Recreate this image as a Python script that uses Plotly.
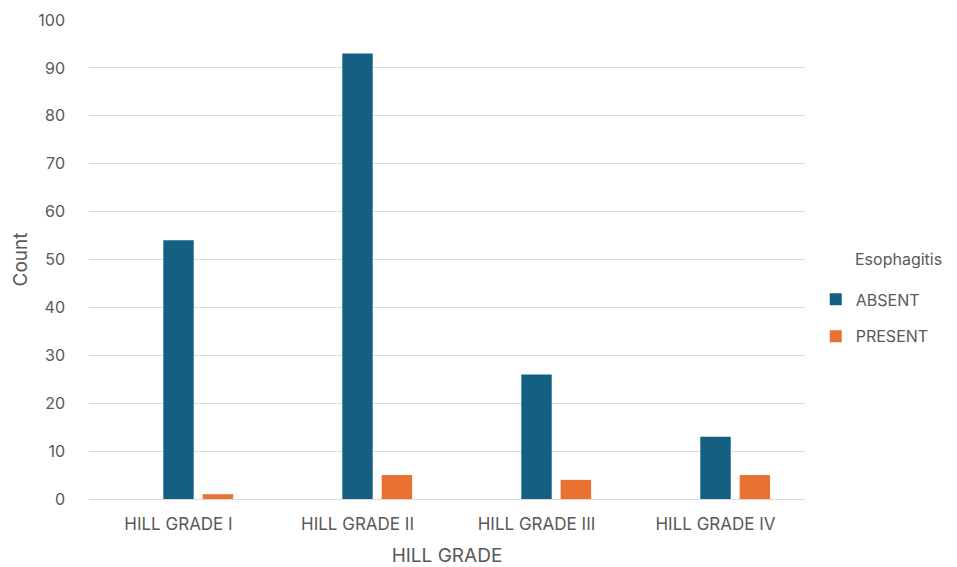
import plotly.graph_objects as go

# Counts of esophagitis status by Hill grade
categories = ["HILL GRADE I", "HILL GRADE II", "HILL GRADE III", "HILL GRADE IV"]
absent = [54, 93, 26, 13]
present = [1, 5, 4, 5]

TEXT = "#595959"
GRID = "#d9d9d9"
FONT = "Inter, 'Open Sans', Arial, sans-serif"

fig = go.Figure()
fig.add_trace(go.Bar(
    x=categories, y=absent, name="ABSENT", legendgroup="a",
    marker=dict(color="#156082", line=dict(width=0)),
    width=0.17, offset=-0.085,
))
fig.add_trace(go.Bar(
    x=categories, y=present, name="PRESENT", legendgroup="p",
    marker=dict(color="#E97132", line=dict(width=0)),
    width=0.17, offset=0.135,
))

fig.update_layout(
    width=957, height=567,
    margin=dict(l=89, r=152, t=20, b=68),
    paper_bgcolor="white", plot_bgcolor="white",
    font=dict(family=FONT, size=16, color=TEXT),
    barmode="overlay",
    showlegend=True,
    legend=dict(
        x=1.015, xanchor="left", y=0.378, yanchor="middle",
        font=dict(size=16, color=TEXT),
        tracegroupgap=13, itemwidth=30,
    ),
    annotations=[dict(
        text="Esophagitis", xref="paper", yref="paper",
        x=(853 - 89) / 716, y=(499 - 259) / 479,
        xanchor="left", yanchor="middle", showarrow=False,
        font=dict(size=16, color=TEXT),
    )],
    xaxis=dict(
        title=dict(text="HILL GRADE", font=dict(size=19, color=TEXT), standoff=17),
        showline=True, linecolor=GRID, linewidth=1, automargin=False,
        ticks="", showgrid=False, ticklabelstandoff=10,
        tickfont=dict(size=17, color=TEXT),
    ),
    yaxis=dict(
        title=dict(text="Count", font=dict(size=19, color=TEXT), standoff=5),
        range=[0, 100], dtick=10, automargin=False,
        showgrid=True, gridcolor=GRID, gridwidth=1,
        zeroline=True, zerolinecolor=GRID, zerolinewidth=1,
        showline=False, ticks="", ticklabelstandoff=23,
        tickfont=dict(size=16, color=TEXT),
    ),
)

fig.write_html("out.html")
